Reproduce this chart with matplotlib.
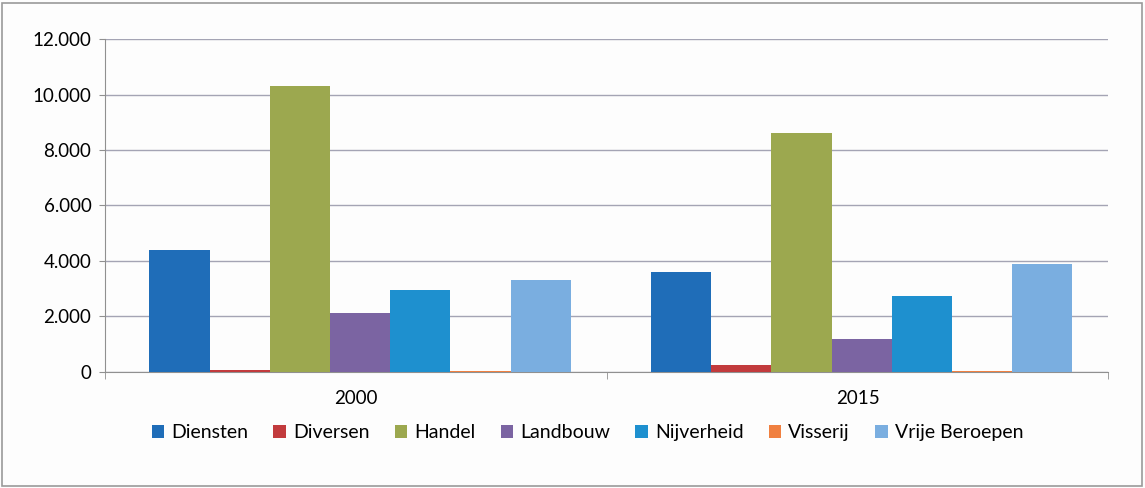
import numpy as np
import matplotlib.pyplot as plt
from matplotlib.patches import Rectangle
from matplotlib.ticker import FuncFormatter

plt.rcParams['font.family'] = ['Lato', 'DejaVu Sans']

years = ['2000', '2015']
sectors = ['Diensten', 'Diversen', 'Handel', 'Landbouw', 'Nijverheid', 'Visserij', 'Vrije Beroepen']
values_2000 = [4400, 50, 10320, 2130, 2950, 20, 3300]
values_2015 = [3600, 250, 8600, 1200, 2750, 30, 3900]
colors = ['#1f6db8', '#c23b3d', '#9ca84f', '#7b64a2', '#1e90cf', '#f08040', '#7aaee0']

fig = plt.figure(figsize=(11.45, 4.88), dpi=100)
fig.patch.set_facecolor('#fdfdfd')
fig.patches.append(Rectangle((0.002, 0.004), 0.995, 0.99, transform=fig.transFigure,
                             fill=False, edgecolor='#9a9a9a', linewidth=1.2))
ax = fig.add_axes([0.092, 0.238, 0.876, 0.682])
ax.set_facecolor('none')

data = np.array([values_2000, values_2015])
x = np.arange(len(years))
w = 0.12
for i, name in enumerate(sectors):
    offs = (i - 3) * w + 0.008
    ax.bar(x + offs, data[:, i], width=w, color=colors[i], label=name, zorder=3)

ax.set_xlim(-0.5, 1.5)
ax.set_ylim(0, 12000)
ax.set_yticks(range(0, 12001, 2000))
ax.yaxis.set_major_formatter(FuncFormatter(lambda v, p: f'{int(v):,}'.replace(',', '.')))
ax.grid(axis='y', color='#a4a4b4', linewidth=1.0, zorder=0)

ax.set_xticks(x)
ax.set_xticklabels(years)
ax.set_xticks([-0.5, 0.5, 1.5], minor=True)
ax.tick_params(axis='x', which='major', length=0, pad=13, labelsize=13.5)
ax.tick_params(axis='x', which='minor', length=5, color='#909090')
ax.tick_params(axis='y', length=4, color='#909090', labelsize=13.5, pad=6)

for s in ['top', 'right']:
    ax.spines[s].set_visible(False)
ax.spines['left'].set_color('#909090')
ax.spines['bottom'].set_color('#909090')

fig.legend(loc='center', bbox_to_anchor=(0.513, 0.113), ncol=7, frameon=False,
           fontsize=14, handlelength=0.65, handleheight=0.65, handletextpad=0.35,
           columnspacing=1.3)

fig.savefig('out.png', dpi=100, facecolor=fig.get_facecolor())
